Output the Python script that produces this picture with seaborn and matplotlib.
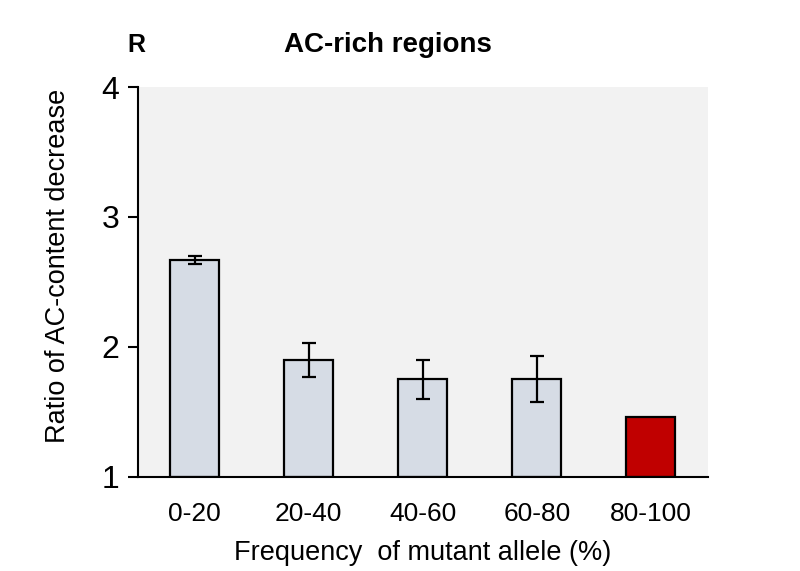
import matplotlib
matplotlib.use("Agg")
import matplotlib.pyplot as plt
import seaborn as sns
import pandas as pd

categories = ["0-20", "20-40", "40-60", "60-80", "80-100"]
values = [2.667, 1.90, 1.752, 1.752, 1.459]
errors = [0.032, 0.13, 0.15, 0.18, 0.0]
bar_colors = ["#d6dce5", "#d6dce5", "#d6dce5", "#d6dce5", "#c00000"]
y_ticks = [1, 2, 3, 4]

sns.set_theme(style="white")
plt.rcParams["font.family"] = ["Liberation Sans", "DejaVu Sans"]
plt.rcParams["text.color"] = "black"
plt.rcParams["xtick.color"] = "black"
plt.rcParams["ytick.color"] = "black"
plt.rcParams["axes.labelcolor"] = "black"

df = pd.DataFrame({"freq": categories, "ratio": values})

fig = plt.figure(figsize=(8, 5.71), dpi=100)
ax = fig.add_axes([0.172, 0.165, 0.713, 0.6826])
ax.set_facecolor("#f2f2f2")

sns.barplot(data=df, x="freq", y="ratio", hue="freq", palette=bar_colors,
            order=categories, hue_order=categories, legend=False,
            saturation=1, width=0.43, edgecolor="black", linewidth=1.6, ax=ax)

# bars start at the axis floor of 1
for p in ax.patches:
    h = p.get_height()
    p.set_y(1)
    p.set_height(h - 1)

xs = list(range(len(categories)))
ex, ey, ee = [], [], []
for x, v, e in zip(xs, values, errors):
    if e > 0:
        ex.append(x); ey.append(v); ee.append(e)
ax.errorbar(ex, ey, yerr=ee, fmt="none", ecolor="black", elinewidth=1.6,
            capsize=5, capthick=1.6, zorder=5)

ax.set_ylim(1, 4)
ax.set_xlim(-0.5, len(categories) - 0.5)
ax.set_yticks(y_ticks)
ax.set_yticklabels([str(t) for t in y_ticks], fontsize=23)
ax.tick_params(axis="y", length=7, width=1.5, pad=6, color="black", left=True)
ax.tick_params(axis="x", length=0, pad=18, labelsize=19)

for s in ["top", "right"]:
    ax.spines[s].set_visible(False)
for s in ["left", "bottom"]:
    ax.spines[s].set_color("black")
    ax.spines[s].set_linewidth(1.5)

ax.set_xlabel("Frequency  of mutant allele (%)", fontsize=19.5, labelpad=10)
ax.set_ylabel("Ratio of AC-content decrease", fontsize=19.5)
ax.yaxis.set_label_coords(-0.117, 0.54)

fig.text(387.5 / 800, 1 - 45 / 571, "AC-rich regions", fontsize=20,
         fontweight="bold", ha="center", va="center")
fig.text(136 / 800, 1 - 45 / 571, "R", fontsize=18, fontweight="bold",
         ha="center", va="center")

fig.savefig("out.png", dpi=100, facecolor="white")
